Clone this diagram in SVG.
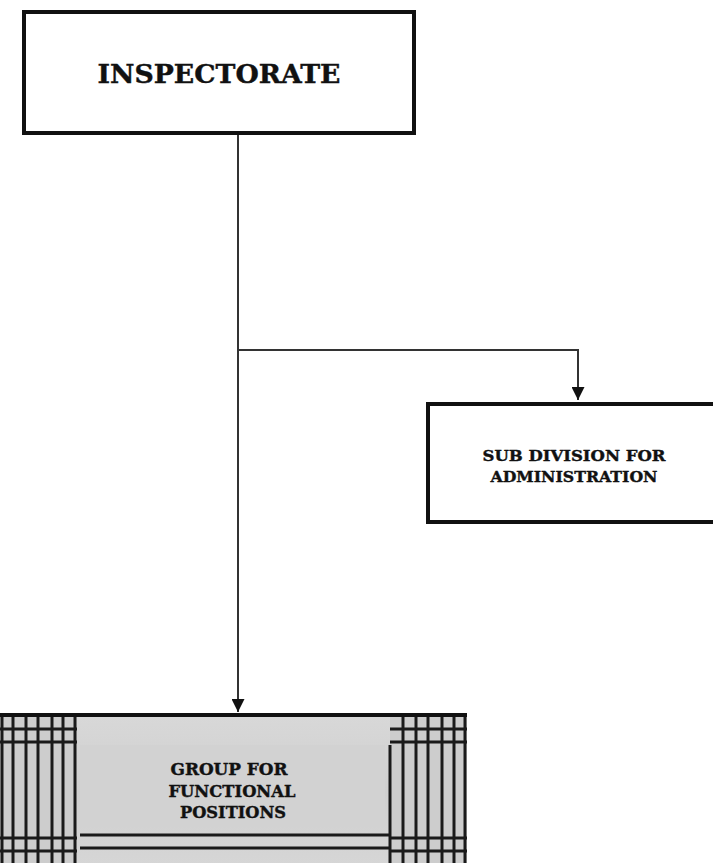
<svg xmlns="http://www.w3.org/2000/svg" width="713" height="863" viewBox="0 0 713 863">
<defs>
<style>
.box{fill:#fff;stroke:#111;stroke-width:4}
.lbl{font-family:"DejaVu Serif","Liberation Serif",serif;font-weight:bold;fill:#111;stroke:#111;stroke-width:0.4;text-anchor:middle}
.conn{stroke:#333;stroke-width:2;fill:none}
.grid{stroke:#1a1a1a;stroke-width:3}
</style>
<marker id="arr" viewBox="0 0 10 10" refX="10" refY="5" markerWidth="6.5" markerHeight="6.5" orient="auto" markerUnits="strokeWidth">
<path d="M0,0 L10,5 L0,10 z" fill="#111"/>
</marker>
<linearGradient id="pan" x1="0" y1="0" x2="0" y2="1">
<stop offset="0" stop-color="#d8d8d8"/>
<stop offset="0.5" stop-color="#cfcfcf"/>
<stop offset="1" stop-color="#d6d6d6"/>
</linearGradient>
</defs>
<rect width="713" height="863" fill="#fff"/>
<g id="connectors">
<line class="conn" x1="238" y1="135" x2="238" y2="712" marker-end="url(#arr)"/>
<polyline class="conn" points="238,350 578,350 578,400" marker-end="url(#arr)"/>
</g>
<g id="inspectorate">
<rect class="box" x="24" y="12" width="390" height="121"/>
<text class="lbl" x="219" y="83" font-size="26" textLength="243" lengthAdjust="spacingAndGlyphs">INSPECTORATE</text>
</g>
<g id="subdivision">
<rect class="box" x="428" y="404" width="300" height="118"/>
<text class="lbl" x="574" y="461" font-size="15" textLength="183" lengthAdjust="spacingAndGlyphs">SUB DIVISION FOR</text>
<text class="lbl" x="574" y="482" font-size="15" textLength="167" lengthAdjust="spacingAndGlyphs">ADMINISTRATION</text>
</g>
<g id="group">
<rect x="0" y="714" width="467" height="160" fill="#cdcdcd"/>
<rect x="77" y="716" width="313" height="150" fill="url(#pan)"/>
<rect x="80" y="745" width="305" height="82" fill="#d2d2d2"/>
<g class="grid">
<line x1="2" y1="714" x2="2" y2="863"/>
<line x1="13" y1="714" x2="13" y2="863"/>
<line x1="26" y1="714" x2="26" y2="863"/>
<line x1="38" y1="714" x2="38" y2="863"/>
<line x1="52" y1="714" x2="52" y2="863"/>
<line x1="63" y1="714" x2="63" y2="863"/>
<line x1="75" y1="714" x2="75" y2="863"/>
<line x1="403" y1="714" x2="403" y2="863"/>
<line x1="416" y1="714" x2="416" y2="863"/>
<line x1="428" y1="714" x2="428" y2="863"/>
<line x1="442" y1="714" x2="442" y2="863"/>
<line x1="454" y1="714" x2="454" y2="863"/>
<line x1="465" y1="714" x2="465" y2="863"/>
<line x1="390" y1="745" x2="390" y2="863"/>
<line x1="0" y1="729" x2="77" y2="729"/>
<line x1="0" y1="742" x2="77" y2="742"/>
<line x1="0" y1="838" x2="77" y2="838"/>
<line x1="0" y1="851" x2="77" y2="851"/>
<line x1="390" y1="729" x2="467" y2="729"/>
<line x1="390" y1="742" x2="467" y2="742"/>
<line x1="390" y1="838" x2="467" y2="838"/>
<line x1="390" y1="851" x2="467" y2="851"/>
<line x1="80" y1="835" x2="390" y2="835"/>
<line x1="80" y1="848" x2="390" y2="848"/>
</g>
<line x1="0" y1="715" x2="467" y2="715" stroke="#111" stroke-width="4"/>
<text class="lbl" x="229" y="775" font-size="16" textLength="117" lengthAdjust="spacingAndGlyphs">GROUP FOR</text>
<text class="lbl" x="232" y="797" font-size="16" textLength="127" lengthAdjust="spacingAndGlyphs">FUNCTIONAL</text>
<text class="lbl" x="233" y="818" font-size="16" textLength="106" lengthAdjust="spacingAndGlyphs">POSITIONS</text>
</g>
</svg>
